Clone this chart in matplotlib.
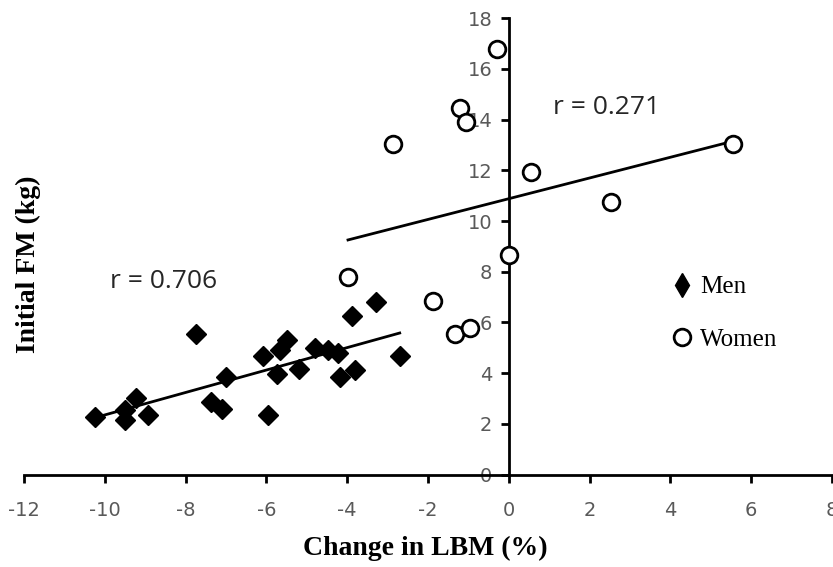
import numpy as np
import matplotlib.pyplot as plt
from matplotlib.lines import Line2D

plt.rcParams['axes.unicode_minus'] = False

# data
men_x = [-10.25, -9.5, -9.5, -9.22, -8.93, -7.75, -6.99, -7.36, -7.11, -6.08, -5.97, -5.73,
         -5.67, -5.49, -5.19, -4.80, -4.47, -4.23, -4.18, -3.81, -3.89, -3.29, -2.70]
men_y = [2.28, 2.55, 2.15, 3.01, 2.35, 5.53, 3.86, 2.88, 2.58, 4.68, 2.35, 3.96,
         4.92, 5.31, 4.17, 4.98, 4.92, 4.78, 3.86, 4.13, 6.27, 6.80, 4.68]
women_x = [-0.30, -1.21, -1.05, -2.86, 0.54, 2.54, 5.54, 0.0, -3.98, -1.88, -1.34, -0.97]
women_y = [16.78, 14.45, 13.92, 13.04, 11.95, 10.74, 13.04, 8.66, 7.78, 6.84, 5.54, 5.78]
x_ticks = [-12, -10, -8, -6, -4, -2, 0, 2, 4, 6, 8]
y_ticks = [0, 2, 4, 6, 8, 10, 12, 14, 16, 18]
r_men = "r = 0.706"
r_women = "r = 0.271"

fig = plt.figure(figsize=(8.33, 5.67), dpi=100)
ax = fig.add_axes([0.0288, 0.163, 0.970, 0.805])

ax.plot(men_x, men_y, 'D', color='black', ms=10, zorder=3)
ax.plot(women_x, women_y, 'o', mfc='white', mec='black', mew=2, ms=12, zorder=3)

# linear trendlines over each group's x range
for xs, ys in [(men_x, men_y), (women_x, women_y)]:
    m, b = np.polyfit(xs, ys, 1)
    xx = np.array([min(xs), max(xs)])
    ax.plot(xx, m * xx + b, color='black', lw=2, zorder=2)

ax.set_xlim(-12, 8)
ax.set_ylim(0, 18)
ax.spines['left'].set_position(('data', 0))
ax.spines['right'].set_visible(False)
ax.spines['top'].set_visible(False)
for s in ['left', 'bottom']:
    ax.spines[s].set_linewidth(2)
ax.set_xticks(x_ticks)
ax.set_yticks(y_ticks)
ax.tick_params(axis='both', direction='out', length=6, width=2, labelsize=14,
               labelcolor='#595959', pad=6)
for lab in ax.get_xticklabels() + ax.get_yticklabels():
    lab.set_family('Liberation Sans Narrow')
ax.tick_params(axis='x', pad=13)

ax.text(-9.88, 7.6, r_men, fontsize=19, family='Open Sans', color='#262626', va='center')
ax.text(1.09, 14.46, r_women, fontsize=19, family='Open Sans', color='#262626', va='center')

fig.text(0.51, 0.0335, 'Change in LBM (%)', ha='center', va='center', fontsize=20,
         fontweight='bold', family='Liberation Serif')
fig.text(0.034, 0.534, 'Initial FM (kg)', va='center', ha='center', rotation=90, fontsize=20,
         fontweight='bold', family='Liberation Serif')

handles = [Line2D([], [], ls='none', marker='d', color='black', ms=12),
           Line2D([], [], ls='none', marker='o', mfc='white', mec='black', mew=2, ms=12)]
leg = ax.legend(handles, ['Men', 'Women'], loc='center left', bbox_to_anchor=(0.79, 0.353),
                frameon=False, prop={'family': 'Liberation Serif', 'size': 18},
                handlelength=0.8, handletextpad=0.3, labelspacing=1.2, borderaxespad=0)

fig.savefig('out.png', dpi=100)
